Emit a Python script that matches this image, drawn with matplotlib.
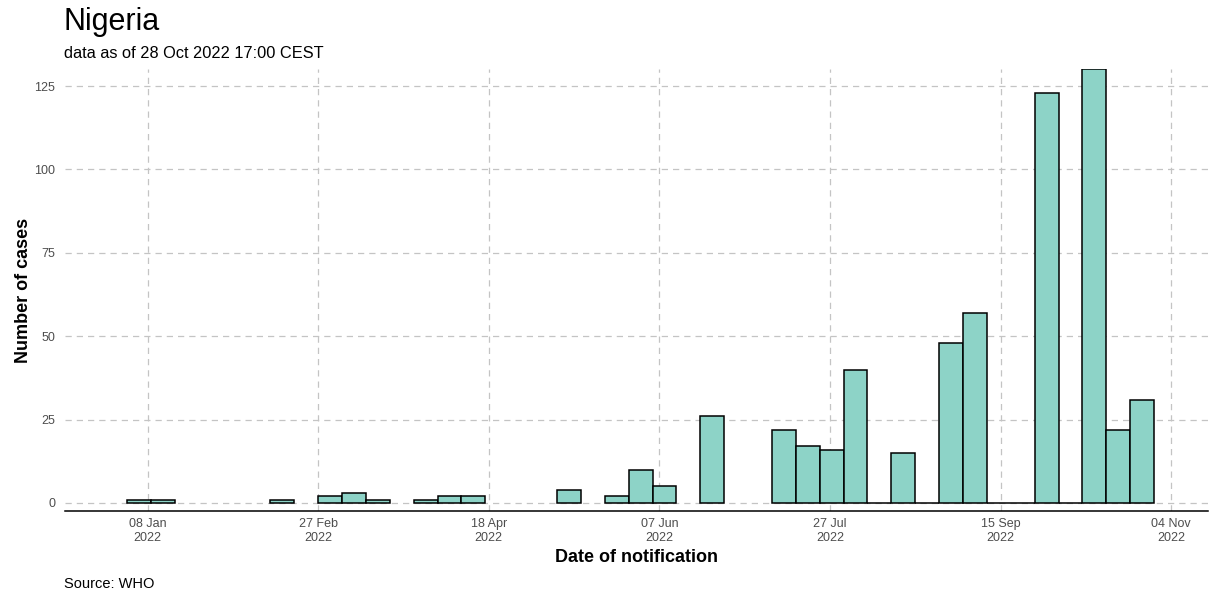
import datetime as dt
import matplotlib
matplotlib.use("Agg")
import matplotlib.pyplot as plt
import matplotlib.dates as mdates

# ---- data ----
week_start = ["2022-01-02", "2022-01-09", "2022-02-13", "2022-02-27", "2022-03-06",
              "2022-03-13", "2022-03-27", "2022-04-03", "2022-04-10", "2022-05-08",
              "2022-05-22", "2022-05-29", "2022-06-05", "2022-06-19", "2022-07-10",
              "2022-07-17", "2022-07-24", "2022-07-31", "2022-08-07", "2022-08-14",
              "2022-08-21", "2022-08-28", "2022-09-04", "2022-09-11", "2022-09-18",
              "2022-09-25", "2022-10-02", "2022-10-09", "2022-10-16", "2022-10-23"]
cases = [1, 1, 1, 2, 3,
         1, 1, 2, 2, 4,
         2, 10, 5, 26, 22,
         17, 16, 40, 0, 15,
         0, 48, 57, 0, 0,
         123, 0, 130, 22, 31]
tick_dates = ["2022-01-08", "2022-02-27", "2022-04-18", "2022-06-07",
              "2022-07-27", "2022-09-15", "2022-11-04"]
y_ticks = [0, 25, 50, 75, 100, 125]

title = "Nigeria"
subtitle = "data as of 28 Oct 2022 17:00 CEST"
xlabel = "Date of notification"
ylabel = "Number of cases"
caption = "Source: WHO"

plt.rcParams['font.family'] = ['Liberation Sans', 'DejaVu Sans']

fig = plt.figure(figsize=(12.32, 5.94), dpi=100)
ax = fig.add_axes([65/1232, 83/594, (1208-65)/1232, (525-83)/594])

def to_dt(s):
    return dt.datetime.strptime(s, "%Y-%m-%d")

def d(s):
    return mdates.date2num(to_dt(s))

xs = [d(s) for s in week_start]
ax.bar(xs, cases, width=7, align='edge', color='#8dd3c7',
       edgecolor='black', linewidth=1.1, zorder=3)

ax.set_xlim(d("2022-01-08") - 24.2, d("2022-01-08") + 310.8)
ax.set_ylim(-2.4, 130.1)

ax.set_xticks([d(s) for s in tick_dates])
ax.set_xticklabels([to_dt(s).strftime("%d %b\n%Y") for s in tick_dates],
                   linespacing=1.2)
ax.set_yticks(y_ticks)

ax.grid(True, color='#c4c4c4', linestyle=(0, (5, 4)), linewidth=0.9, zorder=0)
for s in ['top', 'right', 'left']:
    ax.spines[s].set_visible(False)
ax.spines['bottom'].set_linewidth(1.1)
ax.spines['bottom'].set_color('black')
ax.tick_params(axis='both', length=0, labelsize=9, labelcolor='#4d4d4d')
ax.tick_params(axis='x', pad=5)
ax.tick_params(axis='y', pad=7)

ax.set_xlabel(xlabel, fontsize=13, fontweight='bold')
ax.xaxis.set_label_coords(0.5, -(558 - 511) / 442)
ax.xaxis.label.set_va('center')
ax.set_ylabel(ylabel, fontsize=13, fontweight='bold')
ax.yaxis.set_label_coords((24 - 65) / 1143, 0.5)
ax.yaxis.label.set_va('center')

fig.text(64/1232, 1 - 30/594, title, fontsize=22, va='baseline', ha='left')
fig.text(64/1232, 1 - 57.5/594, subtitle, fontsize=11.8, va='baseline', ha='left')
fig.text(64/1232, 1 - 588/594, caption, fontsize=10.5, va='baseline', ha='left')

fig.savefig("out.png", dpi=100)
